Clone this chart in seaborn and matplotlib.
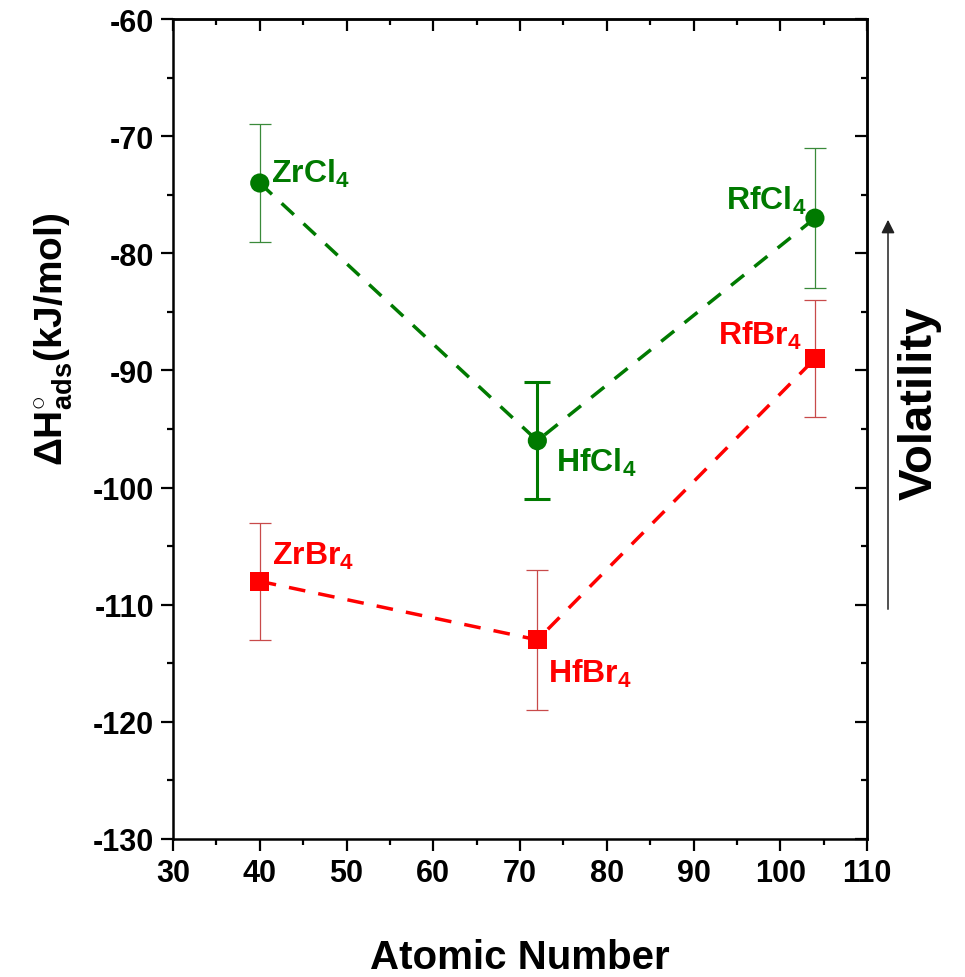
import numpy as np
import pandas as pd
import matplotlib
matplotlib.use("Agg")
import matplotlib.pyplot as plt
import seaborn as sns
from matplotlib.ticker import MultipleLocator

# ---- data ----
atomic_number = [40, 72, 104]
cl_values = [-74, -96, -77]
cl_errors = [5, 5, 6]
br_values = [-108, -113, -89]
br_errors = [5, 6, 5]
cl_labels = ["ZrCl$_4$", "HfCl$_4$", "RfCl$_4$"]
br_labels = ["ZrBr$_4$", "HfBr$_4$", "RfBr$_4$"]

# ---- style ----
sns.set_theme(style="ticks")
plt.rcParams["font.family"] = ["Liberation Sans", "DejaVu Sans"]
plt.rcParams["font.weight"] = "bold"
plt.rcParams["mathtext.fontset"] = "custom"
plt.rcParams["mathtext.rm"] = "Liberation Sans:bold"
plt.rcParams["mathtext.it"] = "Liberation Sans:bold"
plt.rcParams["mathtext.bf"] = "Liberation Sans:bold"
plt.rcParams["mathtext.sf"] = "Liberation Sans:bold"
plt.rcParams["axes.unicode_minus"] = False
plt.rcParams["text.color"] = "black"
plt.rcParams["axes.labelcolor"] = "black"
plt.rcParams["xtick.color"] = "black"
plt.rcParams["ytick.color"] = "black"

GREEN = "#007a00"
RED = "#ff0000"

fig = plt.figure(figsize=(9.65, 9.78), dpi=100)
ax = fig.add_axes([173 / 965, 1 - 840 / 978, 694 / 965, 820 / 978])

df = pd.DataFrame({
    "Z": atomic_number * 2,
    "H": cl_values + br_values,
    "series": ["Cl"] * 3 + ["Br"] * 3,
})

# error bars
cl_lw = [0.9, 2.2, 0.9]
cl_cap = [8.2, 9.4, 8.2]
for z, v, e, lw, cs in zip(atomic_number, cl_values, cl_errors, cl_lw, cl_cap):
    col = GREEN if lw > 1.5 else "#3a8a3a"
    ax.errorbar(z, v, yerr=e, fmt="none", ecolor=col, elinewidth=lw,
                capsize=cs, capthick=lw, zorder=2)
for z, v, e in zip(atomic_number, br_values, br_errors):
    ax.errorbar(z, v, yerr=e, fmt="none", ecolor="#c84a4a", elinewidth=0.9,
                capsize=8.2, capthick=0.9, zorder=2)

# dashed connecting lines
sns.lineplot(data=df, x="Z", y="H", hue="series", style="series",
             palette={"Cl": GREEN, "Br": RED},
             dashes={"Cl": (4.8, 3.8), "Br": (4.8, 3.8)},
             linewidth=2.5, legend=False, sort=False, ax=ax, zorder=3)

# markers
sns.scatterplot(data=df, x="Z", y="H", hue="series", style="series",
                palette={"Cl": GREEN, "Br": RED},
                markers={"Cl": "o", "Br": "s"}, s=190, linewidth=0,
                legend=False, ax=ax, zorder=5)

# labels
cl_pos = [(41.3, -73.9), (74.15, -98.6), (93.75, -76.2)]
br_pos = [(41.4, -106.5), (73.2, -116.6), (92.8, -87.7)]
for (x, y), t in zip(cl_pos, cl_labels):
    ax.text(x, y, t, color=GREEN, fontsize=23, fontweight="bold",
            ha="left", va="baseline", zorder=6)
for (x, y), t in zip(br_pos, br_labels):
    ax.text(x, y, t, color=RED, fontsize=23, fontweight="bold",
            ha="left", va="baseline", zorder=6)

# axes
ax.set_xlim(30, 110)
ax.set_ylim(-130, -60)
ax.xaxis.set_major_locator(MultipleLocator(10))
ax.xaxis.set_minor_locator(MultipleLocator(5))
ax.yaxis.set_major_locator(MultipleLocator(10))
ax.yaxis.set_minor_locator(MultipleLocator(5))
for s in ax.spines.values():
    s.set_visible(True)
    s.set_linewidth(1.8)
    s.set_color("black")
ax.tick_params(axis="both", which="major", length=8.5, width=1.6,
               labelsize=22, colors="black", pad=5)
ax.tick_params(axis="both", which="minor", length=4.3, width=1.6)
ax.tick_params(axis="x", which="both", direction="out", top=False)
ax.tick_params(axis="y", which="both", direction="out", right=False)

# inward ticks on top and right
axt = ax.secondary_xaxis("top")
axt.xaxis.set_major_locator(MultipleLocator(10))
axt.xaxis.set_minor_locator(MultipleLocator(5))
axt.tick_params(which="major", direction="in", length=8.5, width=1.6, labeltop=False)
axt.tick_params(which="minor", direction="in", length=4.3, width=1.6)
axr = ax.secondary_yaxis("right")
axr.yaxis.set_major_locator(MultipleLocator(10))
axr.yaxis.set_minor_locator(MultipleLocator(5))
axr.tick_params(which="major", direction="in", length=8.5, width=1.6, labelright=False)
axr.tick_params(which="minor", direction="in", length=4.3, width=1.6)
for a in (axt, axr):
    for s in a.spines.values():
        s.set_linewidth(1.8)

ax.set_xlabel("Atomic Number", fontsize=29, fontweight="bold", labelpad=36)
ax.set_ylabel(r"$\Delta$H$^{\circ}_{ads}$(kJ/mol)", fontsize=28, fontweight="bold")
ax.yaxis.set_label_coords(-0.141, 0.611)
ax.yaxis.label.set_va("bottom")

# volatility arrow
ax.annotate("", xy=(888 / 965, 1 - 218 / 978), xytext=(888 / 965, 1 - 613 / 978),
            xycoords="figure fraction", textcoords="figure fraction",
            arrowprops=dict(arrowstyle="-|>", color="#222222", lw=1.1,
                            mutation_scale=20))
fig.text(920 / 965, 1 - 403 / 978, "Volatility", rotation=90, ha="center",
         va="center", fontsize=34, fontweight="bold")

fig.savefig("out.png", dpi=100)
